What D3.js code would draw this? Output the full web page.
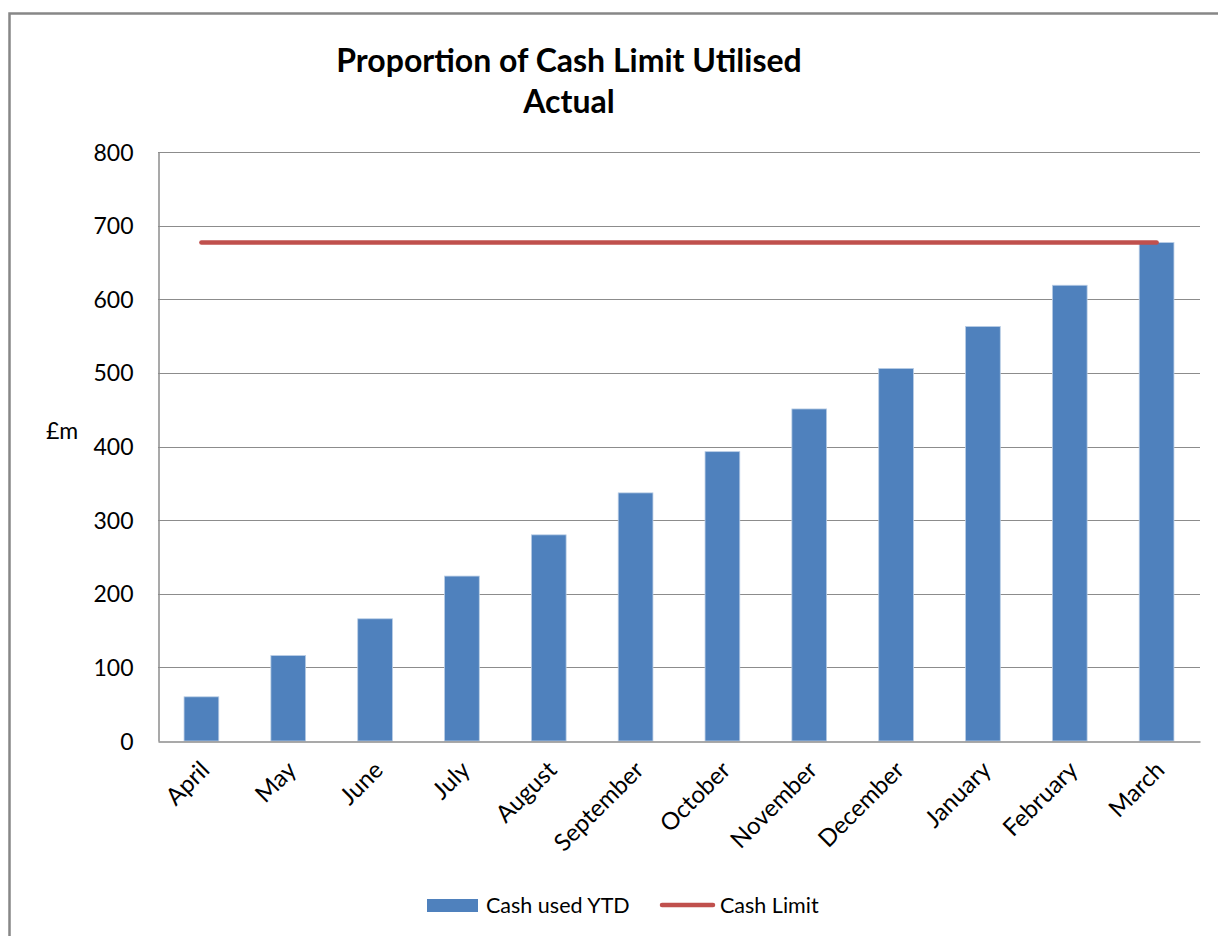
<!DOCTYPE html>
<html>
<head>
<meta charset="utf-8">
<script src="https://cdn.jsdelivr.net/npm/d3@7"></script>
<style>
  html, body { margin: 0; padding: 0; background: #fff; }
  svg { display: block; }
  text { font-family: Lato, "Open Sans", sans-serif; fill: #000; }
</style>
</head>
<body>
<svg id="chart" width="1218" height="936"></svg>
<script>
// Monthly cumulative cash used (£m) against the annual cash limit
const months = ["April", "May", "June", "July", "August", "September",
                "October", "November", "December", "January", "February", "March"];
const cashUsedYTD = [60, 116, 166, 224, 280, 337, 393, 451, 506, 563, 619, 677];
const cashLimit = [677, 677, 677, 677, 677, 677, 677, 677, 677, 677, 677, 677];
const yTicks = [0, 100, 200, 300, 400, 500, 600, 700, 800];
const titleLines = ["Proportion of Cash Limit Utilised", "Actual"];
const legendItems = ["Cash used YTD", "Cash Limit"];

const svg = d3.select("#chart");
const blue = "#4F81BD", red = "#C0504D", grid = "#8c8c8c";

// chart frame
svg.append("rect")
  .attr("x", 9.5).attr("y", 13.5).attr("width", 1300).attr("height", 1000)
  .attr("fill", "none").attr("stroke", "#878787").attr("stroke-width", 2.5);

const plot = { left: 158, right: 1200, top: 152, bottom: 741 };

const x = d3.scaleBand().domain(months).range([plot.left, plot.right]).paddingInner(0.6).paddingOuter(0.3);
const xc = d3.scalePoint().domain(months).range([plot.left, plot.right]).padding(0.5);
const y = d3.scaleLinear().domain([0, 800]).range([plot.bottom, plot.top]);

// gridlines
svg.append("g").selectAll("line").data(yTicks.filter(d => d > 0)).join("line")
  .attr("x1", plot.left).attr("x2", plot.right)
  .attr("y1", d => Math.round(y(d)) + 0.5).attr("y2", d => Math.round(y(d)) + 0.5)
  .attr("stroke", grid).attr("stroke-width", 1);

// y axis
const yAxis = svg.append("g").attr("transform", `translate(${plot.left + 0.5},0)`)
  .call(d3.axisLeft(y).tickValues(yTicks).tickSize(0).tickPadding(25));
yAxis.select(".domain").attr("stroke", grid).attr("stroke-width", 1.5);
yAxis.selectAll("text").attr("font-size", 23).attr("font-family", "Lato, sans-serif").attr("dy", "0.35em");

// unit label
svg.append("text").attr("x", 46).attr("y", 439).attr("font-size", 23).text("£m");

// bars
svg.append("g").selectAll("rect").data(months).join("rect")
  .attr("x", d => x(d)).attr("width", x.bandwidth())
  .attr("y", (d, i) => y(cashUsedYTD[i]))
  .attr("height", (d, i) => y(0) - y(cashUsedYTD[i]))
  .attr("fill", blue).attr("stroke", "#b9cde5").attr("stroke-width", 0.8);

// x axis
const xAxis = svg.append("g").attr("transform", `translate(0,${plot.bottom + 0.5})`)
  .call(d3.axisBottom(xc).tickSize(0).tickPadding(0));
xAxis.select(".domain").attr("stroke", grid).attr("stroke-width", 1.5);
xAxis.selectAll("text")
  .attr("font-size", 24).attr("font-family", "Lato, sans-serif")
  .attr("text-anchor", "end").attr("dy", 0).attr("y", 0)
  .attr("transform", "translate(9,30) rotate(-45)");

// cash limit line
svg.append("path")
  .datum(cashLimit)
  .attr("d", d3.line().x((d, i) => xc(months[i])).y(d => y(d)))
  .attr("fill", "none").attr("stroke", red).attr("stroke-width", 4.5).attr("stroke-linecap", "round");

// title
svg.append("g").selectAll("text").data(titleLines).join("text")
  .attr("x", 569).attr("y", (d, i) => 72 + i * 41)
  .attr("text-anchor", "middle").attr("font-size", 32).attr("font-weight", "bold")
  .text(d => d);

// legend
const lg = svg.append("g");
lg.append("rect").attr("x", 427).attr("y", 899).attr("width", 51).attr("height", 13).attr("fill", blue);
lg.append("text").attr("x", 486).attr("y", 913).attr("font-size", 21.5).text(legendItems[0]);
lg.append("line").attr("x1", 662).attr("x2", 713).attr("y1", 905).attr("y2", 905)
  .attr("stroke", red).attr("stroke-width", 4.5).attr("stroke-linecap", "round");
lg.append("text").attr("x", 720).attr("y", 913).attr("font-size", 21.5).text(legendItems[1]);
</script>
</body>
</html>
